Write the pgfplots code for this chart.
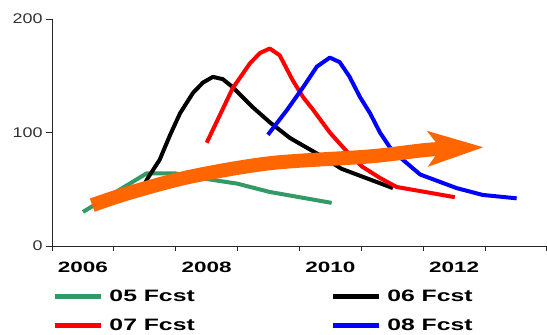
\documentclass[border=0pt]{standalone}
\usepackage{pgfplots}
\pgfplotsset{compat=1.18}
\usepackage{graphicx}
\usepackage{fontspec}
\setmainfont{Liberation Sans}
\usetikzlibrary{arrows.meta}
\definecolor{sgreen}{RGB}{51,153,102}
\definecolor{dorange}{RGB}{255,102,0}
\newcommand{\wx}[1]{\scalebox{1.5}[1]{#1}}
\newcommand{\wy}[1]{\scalebox{1.28}[1]{#1}}
\begin{document}
\begin{tikzpicture}
\begin{axis}[
  scale only axis, width=495bp, height=227bp,
  xmin=2005.5, xmax=2013.5, ymin=0, ymax=200,
  axis x line=bottom, axis y line=left,
  axis line style={-, line width=0.9bp, black!85},
  tick align=outside, major tick length=6bp,
  tick style={line width=0.9bp, black!85},
  xtick={2005.5,2006.5,...,2013.5}, xticklabels={},
  xtick style={/pgfplots/major tick length=4.5bp},
  extra x ticks={2006,2008,2010,2012},
  extra x tick labels={\wx{\bfseries 2006},\wx{\bfseries 2008},\wx{\bfseries 2010},\wx{\bfseries 2012}},
  extra x tick style={major tick length=0pt, tick style={draw=none},
     xticklabel style={font=\fontsize{15bp}{18bp}\selectfont, yshift=-13bp}},
  ytick={0,100,200}, yticklabels={\wy{0},\wy{100},\wy{200}},
  yticklabel style={font=\fontsize{14bp}{16bp}\selectfont, text=black!80},
  clip=false,
  legend columns=2,
  legend image code/.code={\draw[#1, line width=5.5bp] (0bp,0bp) -- (46bp,0bp);},
  legend style={at={(0,0)}, anchor=north west, yshift=-44bp, draw=none, fill=none,
     inner sep=0pt, outer sep=0pt, row sep=16bp,
     font=\fontsize{16.5bp}{18bp}\selectfont\bfseries,
     nodes={inner sep=0pt},
     /tikz/every odd column/.append style={column sep=6bp},
     /tikz/every even column/.append style={column sep=135bp}},
]
\addplot[sgreen, line width=4bp, line join=round] coordinates {
 (2006.0,30) (2007.03,64) (2007.49,64) (2008.0,59) (2008.49,55) (2009.02,47.6) (2010.02,38)};
\addlegendentry{\wx{05 Fcst}}
\addplot[black, line width=4bp, line join=round] coordinates {
 (2007.0,55) (2007.05,60) (2007.24,76) (2007.41,98) (2007.57,117) (2007.78,135) (2007.94,144)
 (2008.10,149) (2008.26,147) (2008.42,140) (2008.75,122) (2009.02,109) (2009.35,95)
 (2009.83,80) (2010.18,68) (2011.01,51)};
\addlegendentry{\wx{06 Fcst}}
\addplot[red, line width=4bp, line join=round] coordinates {
 (2008.00,91) (2008.21,115) (2008.42,139) (2008.70,161) (2008.86,170) (2009.02,174)
 (2009.18,168) (2009.39,146) (2009.56,131) (2009.72,120) (2009.99,100) (2010.27,83)
 (2010.51,70) (2010.80,60) (2011.07,52) (2011.49,48) (2012.01,43)};
\addlegendentry{\wx{07 Fcst}}
\addplot[blue, line width=4bp, line join=round] coordinates {
 (2008.99,98) (2009.30,120) (2009.56,140) (2009.78,158) (2009.99,166) (2010.15,162)
 (2010.31,149) (2010.48,131) (2010.64,117) (2010.80,100) (2010.96,87) (2011.17,76)
 (2011.45,63) (2012.04,51) (2012.46,45) (2013.01,42)};
\addlegendentry{\wx{08 Fcst}}
\addplot[dorange, line width=14bp, smooth, forget plot,
   -{Stealth[length=55bp, width=34bp, inset=12bp]}] coordinates {
 (2006.15,36) (2006.76,47) (2007.73,61) (2009.03,73) (2010.65,79) (2011.62,85) (2012.48,87)};
\end{axis}
\pgfresetboundingbox
\path (-52bp,-89bp) rectangle (495bp,246bp);
\end{tikzpicture}
\end{document}
